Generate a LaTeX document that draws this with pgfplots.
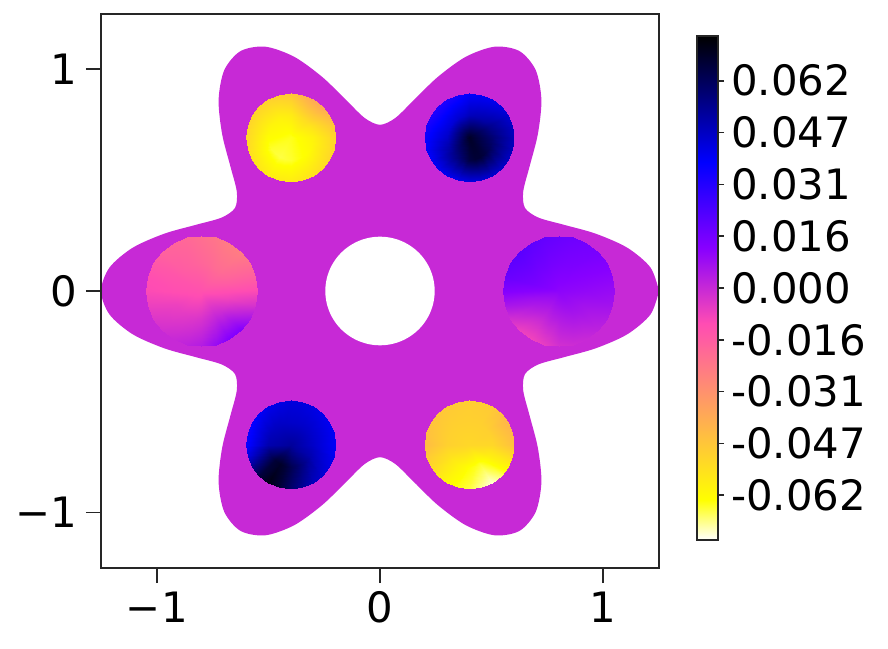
\documentclass[border=0pt]{standalone}
\usepackage{fontspec}
\setmainfont{DejaVu Sans}
\usepackage{pgfplots}
\usepackage{pgfplotstable}
\pgfplotsset{compat=1.18}
\definecolor{mag}{RGB}{199,41,214}
\definecolor{frame}{RGB}{38,38,38}

% flower-shaped domain boundary: angle (deg), radius
\pgfplotstableread{
t r
0 1.25
5 1.2165
10 1.125
15 1.0
20 0.875
25 0.7835
30 0.75
35 0.7835
40 0.875
45 1.0
50 1.125
55 1.2165
60 1.25
65 1.2165
70 1.125
75 1.0
80 0.875
85 0.7835
90 0.75
95 0.7835
100 0.875
105 1.0
110 1.125
115 1.2165
120 1.25
125 1.2165
130 1.125
135 1.0
140 0.875
145 0.7835
150 0.75
155 0.7835
160 0.875
165 1.0
170 1.125
175 1.2165
180 1.25
185 1.2165
190 1.125
195 1.0
200 0.875
205 0.7835
210 0.75
215 0.7835
220 0.875
225 1.0
230 1.125
235 1.2165
240 1.25
245 1.2165
250 1.125
255 1.0
260 0.875
265 0.7835
270 0.75
275 0.7835
280 0.875
285 1.0
290 1.125
295 1.2165
300 1.25
305 1.2165
310 1.125
315 1.0
320 0.875
325 0.7835
330 0.75
335 0.7835
340 0.875
345 1.0
350 1.125
355 1.2165
360 1.25
}\flower

% field values in the six disks: angle, relative radius, values per disk
\pgfplotstableread{
t s A B C D E F
0 0 0.011 -0.012 0.070 0.053 -0.065 -0.052
15 0 0.011 -0.012 0.070 0.053 -0.065 -0.052
30 0 0.011 -0.012 0.070 0.053 -0.065 -0.052
45 0 0.011 -0.012 0.070 0.053 -0.065 -0.052
60 0 0.011 -0.012 0.070 0.053 -0.065 -0.052
75 0 0.011 -0.012 0.070 0.053 -0.065 -0.052
90 0 0.011 -0.012 0.070 0.053 -0.065 -0.052
105 0 0.011 -0.012 0.070 0.053 -0.065 -0.052
120 0 0.011 -0.012 0.070 0.053 -0.065 -0.052
135 0 0.011 -0.012 0.070 0.053 -0.065 -0.052
150 0 0.011 -0.012 0.070 0.053 -0.065 -0.052
165 0 0.011 -0.012 0.070 0.053 -0.065 -0.052
180 0 0.011 -0.012 0.070 0.053 -0.065 -0.052
195 0 0.011 -0.012 0.070 0.053 -0.065 -0.052
210 0 0.011 -0.012 0.070 0.053 -0.065 -0.052
225 0 0.011 -0.012 0.070 0.053 -0.065 -0.052
240 0 0.011 -0.012 0.070 0.053 -0.065 -0.052
255 0 0.011 -0.012 0.070 0.053 -0.065 -0.052
270 0 0.011 -0.012 0.070 0.053 -0.065 -0.052
285 0 0.011 -0.012 0.070 0.053 -0.065 -0.052
300 0 0.011 -0.012 0.070 0.053 -0.065 -0.052
315 0 0.011 -0.012 0.070 0.053 -0.065 -0.052
330 0 0.011 -0.012 0.070 0.053 -0.065 -0.052
345 0 0.011 -0.012 0.070 0.053 -0.065 -0.052
360 0 0.011 -0.012 0.070 0.053 -0.065 -0.052
0 0.5 0.010 -0.011 0.059 0.046 -0.060 -0.052
15 0.5 0.011 -0.015 0.057 0.046 -0.058 -0.051
30 0.5 0.012 -0.018 0.055 0.046 -0.056 -0.050
45 0.5 0.013 -0.020 0.052 0.046 -0.054 -0.050
60 0.5 0.014 -0.020 0.050 0.046 -0.054 -0.050
75 0.5 0.0145 -0.019 0.049 0.046 -0.056 -0.050
90 0.5 0.015 -0.018 0.048 0.046 -0.058 -0.050
105 0.5 0.0155 -0.017 0.046 0.0465 -0.059 -0.050
120 0.5 0.016 -0.016 0.045 0.047 -0.060 -0.050
135 0.5 0.016 -0.015 0.044 0.0475 -0.0605 -0.050
150 0.5 0.016 -0.013 0.044 0.048 -0.061 -0.050
165 0.5 0.015 -0.012 0.045 0.049 -0.062 -0.050
180 0.5 0.012 -0.011 0.046 0.050 -0.063 -0.050
195 0.5 0.008 -0.009 0.049 0.056 -0.0645 -0.0525
210 0.5 0.005 -0.007 0.052 0.062 -0.066 -0.055
225 0.5 0.003 -0.006 0.055 0.068 -0.0665 -0.0575
240 0.5 0.002 -0.005 0.058 0.070 -0.067 -0.060
255 0.5 0.003 -0.004 0.062 0.068 -0.0665 -0.062
270 0.5 0.004 -0.003 0.066 0.064 -0.066 -0.064
285 0.5 0.005 -0.001 0.068 0.061 -0.065 -0.065
300 0.5 0.006 0.000 0.068 0.057 -0.064 -0.066
315 0.5 0.0065 -0.001 0.066 0.053 -0.063 -0.063
330 0.5 0.007 -0.004 0.063 0.050 -0.062 -0.059
345 0.5 0.0085 -0.008 0.061 0.048 -0.061 -0.0555
360 0.5 0.010 -0.011 0.059 0.046 -0.060 -0.052
0 1 0.009 -0.010 0.048 0.039 -0.051 -0.045
15 1 0.011 -0.016 0.047 0.0395 -0.047 -0.043
30 1 0.013 -0.021 0.045 0.040 -0.042 -0.042
45 1 0.015 -0.025 0.042 0.041 -0.038 -0.045
60 1 0.016 -0.025 0.040 0.042 -0.038 -0.048
75 1 0.017 -0.023 0.039 0.043 -0.042 -0.0485
90 1 0.018 -0.021 0.038 0.043 -0.047 -0.049
105 1 0.019 -0.019 0.035 0.042 -0.049 -0.0485
120 1 0.020 -0.018 0.033 0.041 -0.050 -0.048
135 1 0.021 -0.017 0.032 0.039 -0.0505 -0.047
150 1 0.020 -0.014 0.032 0.037 -0.051 -0.046
165 1 0.018 -0.011 0.034 0.036 -0.0515 -0.045
180 1 0.013 -0.010 0.036 0.036 -0.052 -0.044
195 1 0.006 -0.007 0.038 0.043 -0.0535 -0.048
210 1 -0.002 -0.004 0.039 0.055 -0.055 -0.052
225 1 -0.007 -0.002 0.040 0.067 -0.0565 -0.057
240 1 -0.008 0.000 0.040 0.073 -0.058 -0.062
255 1 -0.006 0.002 0.041 0.068 -0.058 -0.065
270 1 -0.002 0.004 0.042 0.060 -0.058 -0.067
285 1 -0.001 0.009 0.044 0.054 -0.0565 -0.071
300 1 0.000 0.013 0.045 0.048 -0.055 -0.074
315 1 0.002 0.013 0.046 0.045 -0.0535 -0.069
330 1 0.004 0.006 0.047 0.042 -0.052 -0.061
345 1 0.007 -0.003 0.048 0.040 -0.0515 -0.053
360 1 0.009 -0.010 0.048 0.039 -0.051 -0.045
}\disks

% colour bar: the full range of values
\pgfplotstableread{
x v
0 -0.076
1 -0.076
0 0.076
1 0.076
}\cbar

\pgfplotsset{
  colormap={gpr}{rgb(0pt)=(1,1,1); rgb(8pt)=(1,1,0); rgb(43pt)=(1,0.3,0.7); rgb(50pt)=(0.78,0.16,0.84); rgb(58pt)=(0.53,0,1); rgb(75pt)=(0,0,1); rgb(100pt)=(0,0,0)},
  diskplot/.style={surf, shader=interp, mesh/rows=3, mesh/cols=25, point meta=explicit},
  lbl/.style={font=\fontsize{42}{50}\selectfont, inner sep=0pt},
}

\begin{document}
\begin{tikzpicture}
\path[use as bounding box] (0,0) rectangle (888bp,649bp);
\begin{axis}[
  at={(101bp,81bp)}, anchor=south west,
  scale only axis, width=558bp, height=554bp,
  xmin=-1.25, xmax=1.25, ymin=-1.25, ymax=1.25,
  axis on top,
  axis line style={frame, line width=1.8bp},
  tick align=outside, xtick pos=bottom, ytick pos=left,
  major tick length=15bp,
  tick style={frame, line width=1.8bp},
  xtick={-1,0,1}, ytick={-1,0,1},
  xticklabels={−1,0,1}, yticklabels={−1,0,1},
  tick label style={lbl},
  xticklabel style={yshift=-8.5bp},
  yticklabel style={xshift=-9bp},
  point meta min=-0.076, point meta max=0.076,
]
\addplot[draw=none, fill=mag, smooth] table[x expr={\thisrow{r}*cos(\thisrow{t})}, y expr={\thisrow{r}*sin(\thisrow{t})}] {\flower};
\addplot[draw=none, fill=white, smooth] table[x expr={0.245*cos(\thisrow{t})}, y expr={0.245*sin(\thisrow{t})}] {\flower};
\addplot[diskplot] table[x expr={0.8+0.25*\thisrow{s}*cos(\thisrow{t})}, y expr={0.25*\thisrow{s}*sin(\thisrow{t})}, meta=A] {\disks};
\addplot[diskplot] table[x expr={-0.8+0.25*\thisrow{s}*cos(\thisrow{t})}, y expr={0.25*\thisrow{s}*sin(\thisrow{t})}, meta=B] {\disks};
\addplot[diskplot] table[x expr={0.4+0.2*\thisrow{s}*cos(\thisrow{t})}, y expr={0.6928+0.2*\thisrow{s}*sin(\thisrow{t})}, meta=C] {\disks};
\addplot[diskplot] table[x expr={-0.4+0.2*\thisrow{s}*cos(\thisrow{t})}, y expr={-0.6928+0.2*\thisrow{s}*sin(\thisrow{t})}, meta=D] {\disks};
\addplot[diskplot] table[x expr={-0.4+0.2*\thisrow{s}*cos(\thisrow{t})}, y expr={0.6928+0.2*\thisrow{s}*sin(\thisrow{t})}, meta=E] {\disks};
\addplot[diskplot] table[x expr={0.4+0.2*\thisrow{s}*cos(\thisrow{t})}, y expr={-0.6928+0.2*\thisrow{s}*sin(\thisrow{t})}, meta=F] {\disks};
\end{axis}
\begin{axis}[
  at={(697bp,109bp)}, anchor=south west,
  scale only axis, width=21bp, height=504bp,
  xmin=0, xmax=1, ymin=-0.076, ymax=0.076,
  axis on top,
  axis line style={frame, line width=1.5bp},
  tick align=outside, major tick length=6bp,
  tick style={frame, line width=1.5bp},
  xtick=\empty, ytick pos=right, yticklabel pos=right,
  minor tick num=0, scaled y ticks=false,
  ytick={-0.0625,-0.046875,-0.03125,-0.015625,0,0.015625,0.03125,0.046875,0.0625},
  yticklabels={-0.062,-0.047,-0.031,-0.016,0.000,0.016,0.031,0.047,0.062},
  yticklabel style={lbl, xshift=7bp},
  point meta min=-0.076, point meta max=0.076,
]
\addplot[surf, shader=interp, mesh/rows=2, mesh/cols=2, point meta=explicit] table[x=x, y=v, meta=v] {\cbar};
\end{axis}
\end{tikzpicture}
\end{document}
